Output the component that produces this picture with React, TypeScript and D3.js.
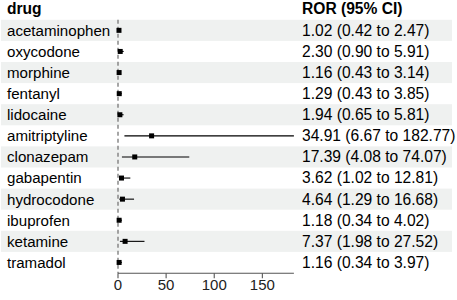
import React from "react";
import * as d3 from "d3";

const drugs = ["acetaminophen","oxycodone","morphine","fentanyl","lidocaine","amitriptyline","clonazepam","gabapentin","hydrocodone","ibuprofen","ketamine","tramadol"];
const ror = [1.02, 2.30, 1.16, 1.29, 1.94, 34.91, 17.39, 3.62, 4.64, 1.18, 7.37, 1.16];
const lower = [0.42, 0.90, 0.43, 0.43, 0.65, 6.67, 4.08, 1.02, 1.29, 0.34, 1.98, 0.34];
const upper = [2.47, 5.91, 3.14, 3.85, 5.81, 182.77, 74.07, 12.81, 16.68, 4.02, 27.52, 3.97];
const ticks = [0, 50, 100, 150];

const W = 457, H = 300;
const top = 19.8, rowH = 21.1;
const font = "'Liberation Sans', Arial, sans-serif";
const fs = 15.6;
const fsLeft = 15.1;

export default function App() {
  const x = d3.scaleLinear().domain([0, 182.77]).range([118, 293.9]);
  const y = (i: number) => top + rowH * i;
  const axisY = 273.3;
  const fmt = (v: number) => v.toFixed(2);
  return (
    <svg width={W} height={H} style={{ position: "absolute", left: 0, top: 0 }} fontFamily={font}>
      <rect x={0} y={0} width={W} height={H} fill="#fff" />
      {drugs.map((d, i) =>
        i % 2 === 0 ? <rect key={"b" + i} x={1} y={y(i)} width={451} height={rowH} fill="#eff1f0" /> : null
      )}
      <text x={7} y={13.8} fontSize={fs} fontWeight="bold" fill="#000">drug</text>
      <text x={302} y={13.8} fontSize={fs} fontWeight="bold" fill="#000">ROR (95% CI)</text>
      <line x1={x(0)} x2={x(0)} y1={y(0)} y2={axisY} stroke="#777" strokeWidth={1.3} strokeDasharray="4,3" />
      {drugs.map((d, i) => {
        const cy = y(i) + rowH / 2;
        return (
          <g key={d}>
            <text x={7} y={cy + 5.4} fontSize={fsLeft} fill="#000">{d}</text>
            <line x1={x(lower[i])} x2={x(upper[i])} y1={cy} y2={cy} stroke="#000" strokeWidth={1.1} />
            <rect x={x(ror[i]) - 2.5} y={cy - 2.5} width={5} height={5} fill="#000" />
            <text x={302} y={cy + 5.4} fontSize={fs} fill="#000">
              {`${fmt(ror[i])} (${fmt(lower[i])} to ${fmt(upper[i])})`}
            </text>
          </g>
        );
      })}
      <line x1={x(0)} x2={x(182.77)} y1={axisY} y2={axisY} stroke="#555" strokeWidth={1.1} />
      {ticks.map((t) => (
        <g key={t}>
          <line x1={x(t)} x2={x(t)} y1={axisY} y2={axisY + 5} stroke="#555" strokeWidth={1.1} />
          <text x={x(t)} y={289.6} fontSize={15} textAnchor="middle" fill="#222">{t}</text>
        </g>
      ))}
    </svg>
  );
}
